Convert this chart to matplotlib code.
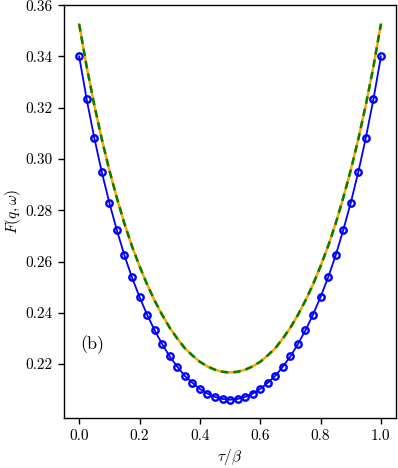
import numpy as np
import matplotlib
matplotlib.use("Agg")
import matplotlib.pyplot as plt

plt.rcParams['font.family'] = 'serif'
plt.rcParams['font.serif'] = ['cmr10', 'DejaVu Serif']
plt.rcParams['mathtext.fontset'] = 'cm'
plt.rcParams['axes.formatter.use_mathtext'] = True

# tau/beta grid (41 points)
tau = np.linspace(0.0, 1.0, 41)

# blue data, left half (tau = 0 ... 0.5)
blue_half = [0.3400, 0.3232, 0.3083, 0.2949, 0.2829, 0.2722, 0.2624, 0.2538,
             0.2462, 0.2393, 0.2332, 0.2278, 0.2230, 0.2190, 0.2154, 0.2127,
             0.2103, 0.2085, 0.2072, 0.2064, 0.2061]
# orange / green curve, left half
curve_half = [0.3526, 0.3359, 0.3211, 0.3077, 0.2956, 0.2848, 0.2748, 0.2660,
              0.2582, 0.2511, 0.2448, 0.2392, 0.2342, 0.2300, 0.2262, 0.2234,
              0.2209, 0.2191, 0.2178, 0.2170, 0.2167]

# curves are symmetric around tau/beta = 0.5
blue_vals = np.array(blue_half + blue_half[-2::-1])
curve_vals = np.array(curve_half + curve_half[-2::-1])

fig = plt.figure(figsize=(3.98, 4.68), dpi=100)
ax = fig.add_axes([0.161, 0.107, 0.834, 0.882])

ax.plot(tau, blue_vals, color='blue', marker='o', markersize=4.6,
        markerfacecolor='none', markeredgewidth=1.7, linewidth=1.3)
ax.plot(tau, curve_vals, color='orange', linewidth=1.8)
ax.plot(tau, curve_vals, color='green', linewidth=1.8, linestyle='--',
        dashes=(3, 2))

ax.set_xlim(-0.05, 1.05)
ax.set_ylim(0.199, 0.36)
ax.set_xticks([0.0, 0.2, 0.4, 0.6, 0.8, 1.0])
ax.set_yticks([0.22, 0.24, 0.26, 0.28, 0.30, 0.32, 0.34, 0.36])
ax.set_yticklabels(['0.22', '0.24', '0.26', '0.28', '0.30', '0.32', '0.34', '0.36'])
ax.set_xticklabels(['0.0', '0.2', '0.4', '0.6', '0.8', '1.0'])
ax.tick_params(labelsize=11, length=4.5, width=1.0)
for s in ax.spines.values():
    s.set_linewidth(1.0)

ax.set_xlabel(r'$\tau/\beta$', fontsize=11, labelpad=3)
ax.set_ylabel(r'$F(q,\omega)$', fontsize=11, labelpad=2)
ax.text(0.048, 0.177, '(b)', transform=ax.transAxes, fontsize=13,
        va='center', ha='left')

fig.savefig('out.png', dpi=100)
